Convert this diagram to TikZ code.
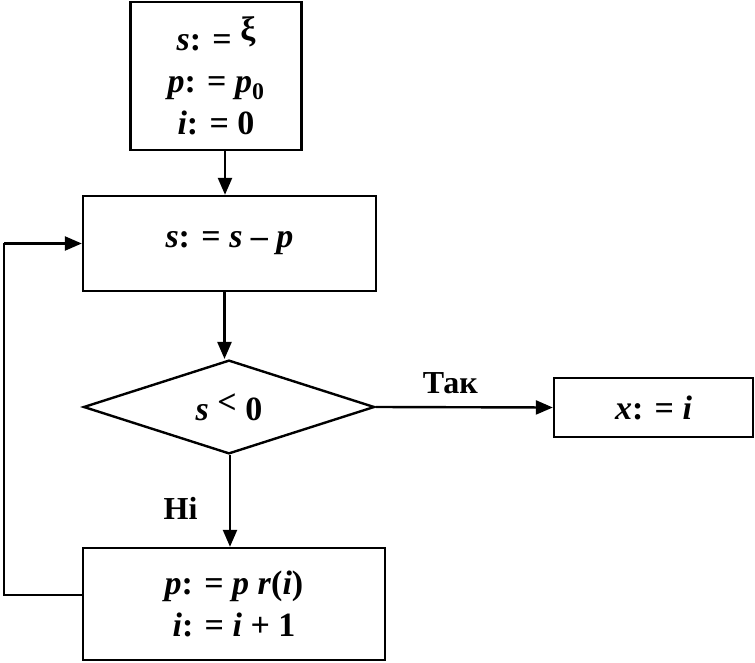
\documentclass[tikz,border=0pt]{standalone}
\usepackage{fontspec}
\setmainfont{Liberation Serif}
\usetikzlibrary{shapes.geometric,arrows.meta}

\begin{document}
\begin{tikzpicture}[x=1pt, y=-1pt, line width=2.4pt,
    box/.style={draw, rectangle, inner sep=0pt, align=center,
        font=\fontsize{34}{42}\selectfont\bfseries},
    decision/.style={draw, diamond, inner sep=0pt,
        font=\fontsize{34}{42}\selectfont\bfseries},
    flow/.style={-{Triangle[length=17pt, width=14pt]}},
    tag/.style={font=\fontsize{32}{36}\selectfont\bfseries}]
    \useasboundingbox (0,0) rectangle (755,663);
    % blocks:
    \node[box, minimum width=171pt, minimum height=148pt] (start) at (216,76)
        {\textit{s}: = \raisebox{10pt}{ξ}\\ \textit{p}: = \textit{p}\textsubscript{0}\\ \textit{i}: = 0};
    \node[box, minimum width=293pt, minimum height=95pt] (calc) at (229.5,243.5)
        {\textit{s}: = \textit{s} – \textit{p}};
    \node[decision, minimum width=291pt, minimum height=90pt] (test) at (229,407)
        {\textit{s} \raisebox{7pt}{<} 0};
    \node[box, minimum width=199pt, minimum height=59pt] (result) at (653.5,407.5)
        {\textit{x}: = \textit{i}};
    \node[box, minimum width=302pt, minimum height=112pt] (update) at (234,604)
        {\textit{p}: = \textit{p r}(\textit{i})\\ \textit{i}: = \textit{i} + 1};
    % corners of the loop:
    \coordinate (loopb) at (4,595);
    \coordinate (loopt) at (4,243.5);
    % connectors:
    \draw[flow] ([xshift=9pt]start.south) -- ([xshift=9pt]start.south |- calc.north);
    \draw[flow] ([xshift=-5pt]calc.south) -- ([xshift=-5pt]calc.south |- test.north);
    \draw[flow] (test.east) -- (result.west) node[tag, midway, above=9pt, xshift=-14pt] {Так};
    \draw[flow] ([xshift=1pt]test.south) -- ([xshift=1pt]test.south |- update.north)
        node[tag, midway, left=28pt, yshift=-7pt] {Ні};
    \draw ([yshift=9pt]update.west) -- (loopb) -- (loopt);
    \draw[flow] (loopt) -- (calc.west);
\end{tikzpicture}
\end{document}
